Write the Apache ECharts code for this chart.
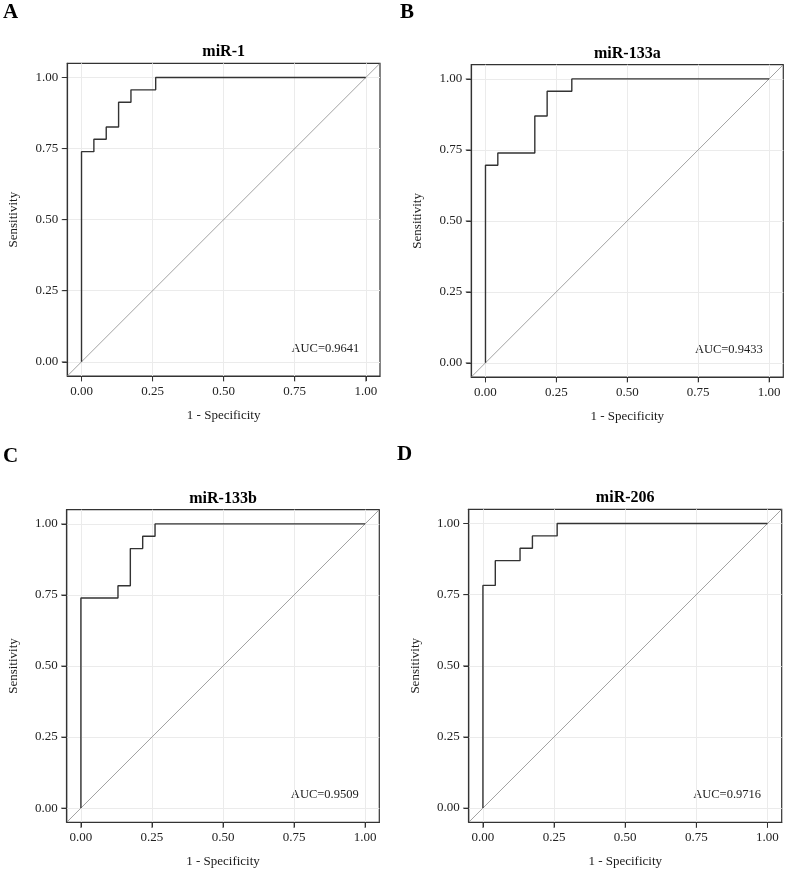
<!DOCTYPE html>
<html>
<head>
<meta charset="utf-8">
<script src="https://cdn.jsdelivr.net/npm/echarts@6/dist/echarts.min.js"></script>
<style>html,body{margin:0;padding:0;background:#fff;}#c{width:785px;height:871px;}</style>
</head>
<body>
<div id="c"></div>
<script>
// ---- data ----
const panelLetters = ['A', 'B', 'C', 'D'];
const panelTitles = ['miR-1', 'miR-133a', 'miR-133b', 'miR-206'];
const aucLabels = ['AUC=0.9641', 'AUC=0.9433', 'AUC=0.9509', 'AUC=0.9716'];
const tickValues = [0, 0.25, 0.5, 0.75, 1];
const tickLabels = ['0.00', '0.25', '0.50', '0.75', '1.00'];
const xName = '1 - Specificity';
const yName = 'Sensitivity';
// ROC step points (1 - specificity, sensitivity)
const rocA = [[0,0],[0,17/23],[1/23,17/23],[1/23,18/23],[2/23,18/23],[2/23,19/23],[3/23,19/23],[3/23,21/23],[4/23,21/23],[4/23,22/23],[6/23,22/23],[6/23,1],[1,1]];
const rocB = [[0,0],[0,16/23],[1/23,16/23],[1/23,17/23],[4/23,17/23],[4/23,20/23],[5/23,20/23],[5/23,22/23],[7/23,22/23],[7/23,1],[1,1]];
const rocC = [[0,0],[0,17/23],[3/23,17/23],[3/23,18/23],[4/23,18/23],[4/23,21/23],[5/23,21/23],[5/23,22/23],[6/23,22/23],[6/23,1],[1,1]];
const rocD = [[0,0],[0,18/23],[1/23,18/23],[1/23,20/23],[3/23,20/23],[3/23,21/23],[4/23,21/23],[4/23,22/23],[6/23,22/23],[6/23,1],[1,1]];
const diagonal = [[-0.05,-0.05],[1.05,1.05]];
const axisMin = -0.05, axisMax = 1.05;

// ---- layout ----
const rocs = [rocA, rocB, rocC, rocD];
const boxes = [
  {l: 67.3, t: 63.3, w: 312.7, h: 312.7},
  {l: 471.3, t: 64.7, w: 312, h: 312.3},
  {l: 66.7, t: 509.7, w: 312.6, h: 312.6},
  {l: 468.7, t: 509.3, w: 313, h: 313}
];
const letterPos = [[3, 13], [400, 13], [3, 457], [397, 455]];
const serif = '"Liberation Serif", "Times New Roman", serif';
const tickLen = 5;

const grid = [], xAxis = [], yAxis = [], series = [], graphic = [];
boxes.forEach((b, i) => {
  grid.push({left: b.l, top: b.t, width: b.w, height: b.h, show: true, borderColor: '#333', borderWidth: 1.2, backgroundColor: 'transparent'});
  const common = {
    gridIndex: i, type: 'value', min: axisMin, max: axisMax,
    nameLocation: 'middle',
    nameTextStyle: {fontFamily: serif, fontSize: 13, color: '#1a1a1a'},
    axisLine: {show: true, onZero: false, lineStyle: {color: '#333', width: 1.2}},
    axisTick: {show: true, inside: false, length: tickLen, customValues: tickValues, lineStyle: {color: '#333', width: 1}},
    axisLabel: {customValues: tickValues, formatter: v => tickLabels[tickValues.indexOf(Math.round(v*100)/100)] ?? '', fontFamily: serif, fontSize: 13, color: '#222', margin: 9},
    splitLine: {show: true, lineStyle: {color: '#ebebeb', width: 1}}
  };
  xAxis.push(Object.assign({}, common, {name: xName, nameGap: 33}));
  yAxis.push(Object.assign({}, common, {name: yName, nameGap: 47}));
  series.push({type: 'line', xAxisIndex: i, yAxisIndex: i, data: diagonal, showSymbol: false, symbol: 'none', lineStyle: {color: '#8a8a8a', width: 0.8}, silent: true});
  series.push({type: 'line', xAxisIndex: i, yAxisIndex: i, data: rocs[i], showSymbol: false, symbol: 'none', lineStyle: {color: '#333', width: 1.4}, silent: true});
  // outward tick marks on the bottom and left frame edges
  series.push({type: 'scatter', xAxisIndex: i, yAxisIndex: i, clip: false, silent: true, z: 5,
    data: tickValues.map(v => [v, axisMin]), symbol: 'rect', symbolSize: [1, tickLen], symbolOffset: [0, tickLen / 2 + 0.6],
    itemStyle: {color: '#333'}});
  series.push({type: 'scatter', xAxisIndex: i, yAxisIndex: i, clip: false, silent: true, z: 5,
    data: tickValues.map(v => [axisMin, v]), symbol: 'rect', symbolSize: [tickLen, 1], symbolOffset: [-(tickLen / 2 + 0.6), 0],
    itemStyle: {color: '#333'}});
  graphic.push({type: 'text', x: b.l + b.w / 2, y: b.t - 11, style: {text: panelTitles[i], font: 'bold 16px ' + serif, fill: '#000', textAlign: 'center', textVerticalAlign: 'middle'}});
  graphic.push({type: 'text', x: b.l + b.w * 0.934, y: b.t + b.h * 0.912, style: {text: aucLabels[i], font: '12.5px ' + serif, fill: '#222', textAlign: 'right', textVerticalAlign: 'middle'}});
  graphic.push({type: 'text', x: letterPos[i][0], y: letterPos[i][1], style: {text: panelLetters[i], font: 'bold 21px ' + serif, fill: '#000', textAlign: 'left', textVerticalAlign: 'middle'}});
});

const chart = echarts.init(document.getElementById('c'), null, {renderer: 'canvas'});
chart.setOption({animation: false, backgroundColor: '#fff', grid, xAxis, yAxis, series, graphic});
</script>
</body>
</html>
